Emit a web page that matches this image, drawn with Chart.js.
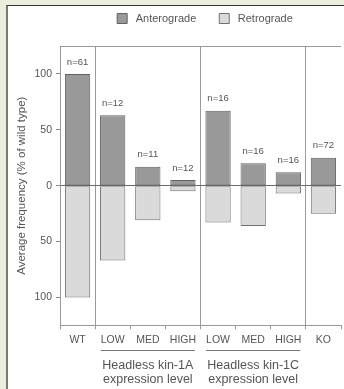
<!DOCTYPE html>
<html>
<head>
<meta charset="utf-8">
<script src="https://cdn.jsdelivr.net/npm/chart.js@4"></script>
<style>
  html, body { margin: 0; padding: 0; background: #ebeddd; }
  #panel {
    position: absolute; left: 6px; top: 5px; width: 336px; height: 384px;
    background: #fff; border-left: 2px solid #7a7a72; border-top: 1px solid #333;
  }
  canvas { display: block; }
</style>
</head>
<body>
<div id="panel"><canvas id="freqChart" width="336" height="384"></canvas></div>
<script>
const categories = ["WT", "LOW", "MED", "HIGH", "LOW", "MED", "HIGH", "KO"];
const anterograde = [100, 63, 17, 5, 67, 20, 12, 25];
const retrograde = [-100, -67, -31, -5, -33, -36, -7, -25];
const nLabels = ["n=61", "n=12", "n=11", "n=12", "n=16", "n=16", "n=16", "n=72"];
const yTicks = [-100, -50, 0, 50, 100];
const groups = [
  { label: ["Headless kin-1A", "expression level"], from: 1, to: 3 },
  { label: ["Headless kin-1C", "expression level"], from: 4, to: 6 },
];
const separators = [0, 1, 4, 7, 8]; // grid line indexes drawn full height

const textColor = "#555";
const font = "Liberation Sans";

// legend: fixed height and position
const legendPlace = {
  id: "legendPlace",
  beforeInit(chart) {
    const fit = chart.legend.fit;
    chart.legend.fit = function () {
      fit.call(this);
      this.height = 40;
    };
  },
  afterLayout(chart) {
    const lg = chart.legend;
    const mid = 197;
    lg.left = mid - 150;
    lg.right = mid + 150;
    lg.top = -16;
  },
};

// n labels, box outline, group captions
const extras = {
  id: "extras",
  afterDatasetsDraw(chart) {
    const { ctx, chartArea: a, scales } = chart;
    ctx.save();
    ctx.strokeStyle = "#9a9a9a";
    ctx.lineWidth = 1;
    ctx.beginPath();
    ctx.moveTo(a.left, a.top + 0.5);
    ctx.lineTo(a.right, a.top + 0.5);
    ctx.stroke();

    const meta = chart.getDatasetMeta(0);
    ctx.fillStyle = textColor;
    ctx.font = "9.5px '" + font + "'";
    ctx.textAlign = "center";
    ctx.textBaseline = "middle";
    meta.data.forEach((bar, i) => {
      ctx.fillText(nLabels[i], bar.x, bar.y - 12);
    });

    const x = scales.x;
    ctx.font = "12.5px '" + font + "'";
    groups.forEach(g => {
      const x0 = x.getPixelForValue(g.from) - 12;
      const x1 = x.getPixelForValue(g.to) + 12;
      const y = Math.round(a.bottom + 25);
      ctx.strokeStyle = "#777";
      ctx.beginPath();
      ctx.moveTo(x0, y + 0.5);
      ctx.lineTo(x1, y + 0.5);
      ctx.stroke();
      g.label.forEach((t, k) => {
        ctx.fillText(t, (x0 + x1) / 2, a.bottom + 40 + k * 14);
      });
    });
    ctx.restore();
  }
};

const ctx = document.getElementById("freqChart").getContext("2d");
const freqChart = new Chart(ctx, {
  type: "bar",
  data: {
    labels: categories,
    datasets: [
      {
        label: " Anterograde",
        data: anterograde,
        backgroundColor: "#999999",
        borderColor: "#626262",
        borderWidth: 1,
        borderSkipped: false,
        barPercentage: 0.72,
        categoryPercentage: 1,
      },
      {
        label: " Retrograde",
        data: retrograde,
        backgroundColor: "#dadada",
        borderColor: "#707070",
        borderWidth: 1,
        borderSkipped: false,
        barPercentage: 0.72,
        categoryPercentage: 1,
      },
    ],
  },
  options: {
    responsive: false,
    animation: false,
    layout: { padding: { top: 0, right: 3, bottom: 40, left: 0 } },
    plugins: {
      legend: {
        labels: {
          color: textColor,
          font: { family: font, size: 11 },
          boxWidth: 10,
          boxHeight: 10,
          padding: 23,
          generateLabels(chart) {
            return chart.data.datasets.map((d, i) => ({
              text: d.label,
              fillStyle: d.backgroundColor,
              strokeStyle: d.borderColor,
              lineWidth: 1,
              fontColor: textColor,
              datasetIndex: i,
            }));
          },
        },
      },
      tooltip: { enabled: false },
    },
    scales: {
      x: {
        stacked: true,
        grid: {
          offset: true,
          color: c => separators.includes(c.index) ? "#9a9a9a" : "transparent",
          tickColor: "#9a9a9a",
          tickLength: 4,
        },
        border: { color: "#9a9a9a" },
        ticks: { color: textColor, font: { family: font, size: 10.5 }, padding: 4 },
      },
      y: {
        stacked: true,
        min: -125,
        max: 125,
        afterBuildTicks: s => { s.ticks = yTicks.map(v => ({ value: v })); },
        afterFit: s => { s.width = 52; },
        grid: {
          color: c => c.tick && c.tick.value === 0 ? "#6a6a6a" : "transparent",
          tickColor: "#8a8a8a",
          tickLength: 4,
        },
        border: { color: "#9a9a9a" },
        ticks: {
          color: textColor,
          font: { family: font, size: 10.5 },
          padding: 4,
          callback: v => Math.abs(v),
        },
        title: {
          display: true,
          text: "Average frequency (% of wild type)",
          color: textColor,
          font: { family: font, size: 11.5 },
          padding: { top: 7, bottom: 0 },
        },
      },
    },
  },
  plugins: [legendPlace, extras],
});
</script>
</body>
</html>
